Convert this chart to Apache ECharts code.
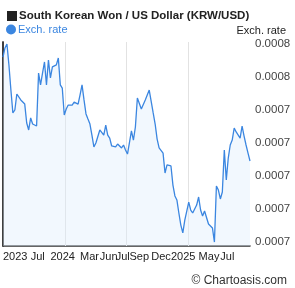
<!DOCTYPE html>
<html><head><meta charset="utf-8">
<script src="https://cdn.jsdelivr.net/npm/echarts@6/dist/echarts.min.js"></script>
<style>html,body{margin:0;padding:0;background:#fff}#c{width:295px;height:288px}</style>
</head><body><div id="c"></div>
<script>
// Exchange rate values (KRW/USD), roughly every ~3 trading days, Jul 2023 -> Jul 2025
const rates = [
0.0007821,0.0007876,0.0007900,0.0007773,0.0007621,0.0007482,0.0007500,0.0007597,0.0007609,0.0007561,
0.0007573,0.0007536,0.0007421,0.0007379,0.0007452,0.0007415,0.0007409,0.0007403,0.0007724,0.0007652,
0.0007724,0.0007791,0.0007652,0.0007803,0.0007694,0.0007761,0.0007773,0.0007773,0.0007815,0.0007652,
0.0007633,0.0007470,0.0007506,0.0007530,0.0007542,0.0007530,0.0007548,0.0007536,0.0007536,0.0007591,
0.0007652,0.0007561,0.0007476,0.0007445,0.0007415,0.0007348,0.0007276,0.0007300,0.0007288,0.0007379,
0.0007373,0.0007348,0.0007409,0.0007348,0.0007330,0.0007282,0.0007288,0.0007276,0.0007294,0.0007282,
0.0007270,0.0007288,0.0007258,0.0007233,0.0007233,0.0007373,0.0007318,0.0007397,0.0007573,0.0007561,
0.0007506,0.0007494,0.0007561,0.0007573,0.0007621,0.0007609,0.0007482,0.0007415,0.0007324,0.0007270,
0.0007264,0.0007239,0.0007118,0.0007167,0.0007161,0.0007161,0.0007045,0.0006979,0.0006955,0.0006876,
0.0006803,0.0006755,0.0006833,0.0006839,0.0006942,0.0006894,0.0006876,0.0006882,0.0006924,0.0006973,
0.0006894,0.0006858,0.0006888,0.0006876,0.0006809,0.0006821,0.0006785,0.0006700,0.0007039,0.0007015,
0.0006961,0.0007003,0.0007258,0.0007076,0.0007209,0.0007288,0.0007318,0.0007391,0.0007367,0.0007373,
0.0007330,0.0007403,0.0007342,0.0007288,0.0007239,0.0007191
];
// x-axis labels and the sample index where each starts
const xLabelText = ['2023','Jul','2024','Mar','Jun','Jul','Sep','Dec','2025','May','Jul'];
const xLabelAt   = [0, 14, 24, 39, 49, 57, 64, 75, 85, 99, 110];
// vertical grid positions (sample index)
const xGridAt = [31.25, 62.5, 93.75];
// y-axis ticks (bottom to top) and their printed labels
const yTicks = [0.00067, 0.00069, 0.00071, 0.00073, 0.00075, 0.00077, 0.00079];
const yTickLabels = ['0.0007','0.0007','0.0007','0.0007','0.0007','0.0008','0.0008'];
const yGridAt = [0.00069, 0.00071, 0.00073, 0.00075, 0.00077];

const chart = echarts.init(document.getElementById('c'), null, {renderer:'canvas'});
const FONT = 'Liberation Sans, Arial, sans-serif';
const BLUE = '#3b86e0';
const GRID = '#e2e2e2';
chart.setOption({
  animation: false,
  textStyle: {fontFamily: FONT},
  title: [
    {text: '{sq|}{t|South Korean Won / US Dollar (KRW/USD)}', left: 2, top: 5,
     textStyle: {rich: {
       sq: {width: 10, height: 10, backgroundColor: '#222', padding: 0},
       t: {fontSize: 11.5, fontWeight: 'bold', color: '#222', fontFamily: FONT, padding: [0,0,0,2]}
     }}},
    {text: 'Exch. rate', right: 4, top: 20, textStyle: {fontSize: 11, fontWeight: 'normal', color: '#222', fontFamily: FONT}},
    {text: '© Chartoasis.com', right: 3, top: 270, textStyle: {fontSize: 12, fontWeight: 'normal', color: '#333', fontFamily: FONT}}
  ],
  legend: {
    left: 1, top: 19, icon: 'circle', itemWidth: 10, itemHeight: 10, itemGap: 4,
    textStyle: {color: BLUE, fontSize: 11, fontFamily: FONT, padding: [0,0,0,-3]},
    data: ['Exch. rate']
  },
  grid: {left: 1, right: 45, top: 42, bottom: 42, containLabel: false},
  xAxis: {
    type: 'value', min: 0, max: rates.length - 1,
    axisLine: {show: true, onZero: false, lineStyle: {color: '#333', width: 1.5}},
    axisTick: {show: false},
    splitLine: {show: false},
    axisLabel: {
      customValues: xLabelAt, align: 'left', margin: 5, fontSize: 11, color: '#222',
      showMinLabel: true, showMaxLabel: true, hideOverlap: false,
      formatter: (v) => xLabelText[xLabelAt.indexOf(v)]
    }
  },
  yAxis: [{
    type: 'value', position: 'right', min: 0.0006676, max: 0.0007912,
    axisLine: {show: true, lineStyle: {color: '#333', width: 1.5}},
    axisTick: {show: false},
    splitLine: {show: false},
    axisLabel: {
      customValues: yTicks, margin: 5, fontSize: 11.5, color: '#444',
      showMinLabel: true, showMaxLabel: true,
      formatter: (v) => { let i = 0, d = Infinity; yTicks.forEach((t,k)=>{ if (Math.abs(t-v) < d) { d = Math.abs(t-v); i = k; } }); return yTickLabels[i]; }
    }
  }, {
    type: 'value', position: 'left', min: 0.0006676, max: 0.0007912,
    axisLine: {show: true, lineStyle: {color: '#333', width: 1.5}},
    axisTick: {show: false}, axisLabel: {show: false}, splitLine: {show: false}
  }],
  series: [{
    name: 'Exch. rate', type: 'line', yAxisIndex: 0, z: 5,
    data: rates.map((v, i) => [i, v]),
    showSymbol: false, symbol: 'none',
    lineStyle: {color: BLUE, width: 1.3},
    itemStyle: {color: BLUE},
    areaStyle: {color: 'rgba(222,238,253,0.55)', origin: 'start'},
    markLine: {
      silent: true, symbol: ['none', 'none'], animation: false, z: 1,
      label: {show: false},
      lineStyle: {color: GRID, type: 'solid', width: 1},
      emphasis: {disabled: true},
      data: yGridAt.map(v => ({yAxis: v})).concat(xGridAt.map(v => ({xAxis: v})))
    }
  }]
});
</script></body></html>
